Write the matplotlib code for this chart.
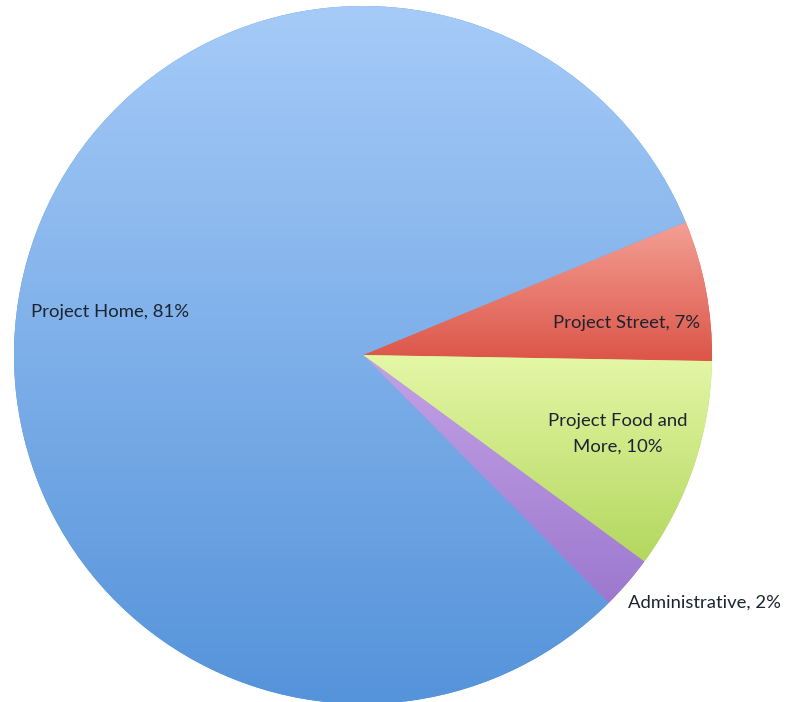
import matplotlib
matplotlib.use("Agg")
import matplotlib.pyplot as plt
import numpy as np
from matplotlib.colors import LinearSegmentedColormap

# slices in clockwise order starting at the upper edge of "Project Street"
categories = ["Project Street", "Project Food and More", "Administrative", "Project Home"]
shares = [6.5, 9.8, 2.5, 81.2]
labels = ["Project Street, 7%", "Project Food and\nMore, 10%", "Administrative, 2%", "Project Home, 81%"]
top_colors = ["#f4a096", "#e4f7a6", "#c4a2e6", "#a6cbf8"]
bottom_colors = ["#dc5548", "#b3d75e", "#9d78cf", "#5593da"]

W, H = 787, 702
fig = plt.figure(figsize=(W / 100, H / 100), dpi=100)
ax = fig.add_axes([0, 0, 1, 1])

cx, cy, r = 363, H - 355, 349
wedges, _ = ax.pie(shares, startangle=22.4, counterclock=False,
                   center=(cx, cy), radius=r,
                   colors=bottom_colors, wedgeprops=dict(linewidth=0))

grad = np.linspace(0, 1, 256).reshape(-1, 1)
for w, c_top, c_bot in zip(wedges, top_colors, bottom_colors):
    verts = w.get_path().vertices
    x0, x1 = verts[:, 0].min(), verts[:, 0].max()
    y0, y1 = verts[:, 1].min(), verts[:, 1].max()
    cmap = LinearSegmentedColormap.from_list("g", [c_bot, c_top])
    im = ax.imshow(grad, cmap=cmap, origin="lower", aspect="auto",
                   extent=[x0, x1, y0, y1], zorder=2, interpolation="bilinear")
    im.set_clip_path(w)

font = dict(family=["Lato", "DejaVu Sans"], fontsize=13.3, color="#1c2330", zorder=5)
ax.text(31, H - 312, labels[3], ha="left", va="center", **font)
ax.text(627, H - 323, labels[0], ha="center", va="center", **font)
ax.text(618, H - 434, labels[1], ha="center", va="center", linespacing=1.75, **font)
ax.text(628, H - 603, labels[2], ha="left", va="center", **font)

ax.set_xlim(0, W)
ax.set_ylim(0, H)
ax.set_aspect("auto")
ax.axis("off")

fig.savefig("out.png", dpi=100)
